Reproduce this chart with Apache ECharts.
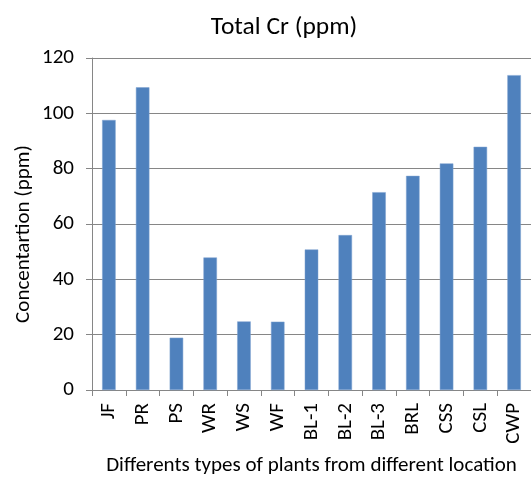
<!DOCTYPE html>
<html>
<head>
<meta charset="utf-8">
<script src="https://cdn.jsdelivr.net/npm/echarts@6/dist/echarts.min.js"></script>
<style>
html,body{margin:0;padding:0;background:#fff;}
#chart{width:531px;height:481px;}
</style>
</head>
<body>
<div id="chart"></div>
<script>
// Plant sample codes along the x axis
const categories = ['JF','PR','PS','WR','WS','WF','BL-1','BL-2','BL-3','BRL','CSS','CSL','CWP'];
// Total chromium concentration per sample (ppm)
const totalCr = [97.6, 109.4, 18.9, 47.9, 24.8, 24.7, 50.8, 56.0, 71.5, 77.4, 81.9, 87.9, 113.8];
const yTicks = {min: 0, max: 120, interval: 20};

const font = 'Carlito, Lato, "Open Sans", sans-serif';
const axisGray = '#868686';

const chart = echarts.init(document.getElementById('chart'));
chart.setOption({
  animation: false,
  title: {
    text: 'Total Cr (ppm)',
    left: 279, top: 10, textAlign: 'center',
    textStyle: {fontFamily: font, fontSize: 25.5, fontWeight: 'normal', color: '#000'}
  },
  grid: {left: 92, right: 0, top: 58, bottom: 87, containLabel: false},
  graphic: [{
    type: 'text',
    x: 24, y: 234,
    rotation: Math.PI / 2,
    style: {
      text: 'Concentartion (ppm)',
      fontFamily: font, fontSize: 21, fill: '#000',
      textAlign: 'center', textVerticalAlign: 'middle'
    }
  }],
  xAxis: {
    type: 'category',
    data: categories,
    name: 'Differents types of plants from different location',
    nameLocation: 'middle',
    nameGap: 65,
    nameTextStyle: {fontFamily: font, fontSize: 21, color: '#000'},
    axisLine: {lineStyle: {color: axisGray, width: 1}},
    axisTick: {show: true, length: 6, lineStyle: {color: axisGray}},
    axisLabel: {rotate: 90, margin: 13, fontFamily: font, fontSize: 21, color: '#000', interval: 0}
  },
  yAxis: {
    type: 'value',
    min: yTicks.min, max: yTicks.max, interval: yTicks.interval,
    axisLine: {show: true, lineStyle: {color: axisGray, width: 1}},
    axisTick: {show: true, length: 6, lineStyle: {color: axisGray}},
    axisLabel: {margin: 18, fontFamily: font, fontSize: 21, color: '#000'},
    splitLine: {lineStyle: {color: axisGray, width: 1}}
  },
  series: [{
    type: 'bar',
    data: totalCr,
    barWidth: '40%',
    itemStyle: {color: '#4F81BD', borderColor: '#7FA3D1', borderWidth: 0.5}
  }]
});
</script>
</body>
</html>
